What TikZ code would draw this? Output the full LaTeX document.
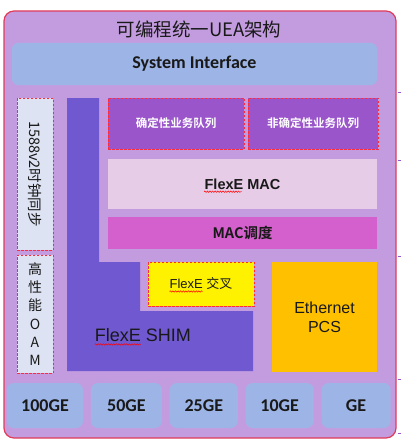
\documentclass[tikz,border=0pt]{standalone}
\usepackage{fontspec}
\usepackage{tikz}
\usetikzlibrary{positioning, decorations.pathmorphing}
\setmainfont{Liberation Sans}
\newfontfamily\cjk{Noto Sans CJK SC}[BoldFont={Noto Sans CJK SC Bold}]
\newfontfamily\calib{Carlito}

\definecolor{ueabg}{HTML}{C39CDF}
\definecolor{ueaedge}{HTML}{E03C5A}
\definecolor{ifblue}{HTML}{9DB5E6}
\definecolor{syncfill}{HTML}{DEE3F4}
\definecolor{shimfill}{HTML}{7058D0}
\definecolor{queuefill}{HTML}{9A55CB}
\definecolor{macfill}{HTML}{E6CCE6}
\definecolor{schedfill}{HTML}{D360CC}
\definecolor{pcsfill}{HTML}{FFC000}
\definecolor{dashred}{HTML}{FF2A3C}

\tikzset{
  frame/.style={draw=ueaedge, line width=1.2pt, fill=ueabg, rounded corners=10pt, inner sep=0},
  block/.style={rectangle, inner sep=0, text=black!90},
  dashbox/.style={block, draw=dashred, line width=1pt, dash pattern=on 2.5pt off 1.5pt},
  queue/.style={dashbox, fill=queuefill, text=white, font=\cjk\bfseries\fontsize{11.5}{13}\selectfont, minimum height=51},
  port/.style={block, fill=ifblue, rounded corners=7pt, font=\calib\bfseries\fontsize{18}{20}\selectfont, minimum height=45},
  spellwave/.style={draw=red, line width=0.5pt, decorate, decoration={snake, amplitude=0.7pt, segment length=2.6pt}},
  tickmark/.style={draw=queuefill, line width=0.8pt}
}

\begin{document}
\begin{tikzpicture}[x=1pt, y=-1pt]
\useasboundingbox (0,0) rectangle (401,444);

% Frame and title
\node[frame, minimum width=392, minimum height=427] (uea) at (200,224.5) {};
\node[block] (title) at (199,29) {\cjk\fontsize{18.5}{21}\selectfont 可编程统一UEA架构};
\foreach \ty in {92,160,256,379,433}
  \draw[tickmark] (397.5,\ty) -- (400.5,\ty);

% System interface
\node[block, fill=ifblue, rounded corners=6pt, minimum width=365, minimum height=42,
      font=\calib\bfseries\fontsize{18}{20}\selectfont] (sysif) at (194.5,64) {System Interface};

% Clock sync and OAM
\node[dashbox, fill=syncfill, rotate=-90, minimum width=152, minimum height=36,
      font=\cjk\fontsize{14.5}{16}\selectfont] (sync) at (35,174) {1588v2时钟同步};
\node[dashbox, fill=syncfill, minimum width=36, minimum height=118, align=center,
      font=\cjk\fontsize{14}{18.3}\selectfont] (oam) at (35,314) {高\\性\\能\\O\\A\\M};

% FlexE SHIM
\fill[shimfill] (67,98) -- (99,98) -- (99,262) -- (140,262) -- (140,311)
  -- (253,311) -- (253,371) -- (67,371) -- cycle;
\node[block, font=\fontsize{18}{20}\selectfont] (shimlbl) at (143,335) {FlexE SHIM};
\draw[spellwave] ([yshift=-3pt]shimlbl.base west) -- ++(46,0);

% Queues
\node[queue, minimum width=136] (detq) at (176,123.5) {确定性业务队列};
\node[queue, minimum width=130, right=3pt of detq] (ndetq) {非确定性业务队列};

% MAC
\node[block, fill=macfill, minimum width=269, minimum height=50,
      font=\bfseries\fontsize{14.5}{16}\selectfont] (mac) at (242.5,184) {FlexE MAC};
\draw[spellwave] ([xshift=-38.5pt, yshift=-2.5pt]mac.base) -- ([xshift=-1pt, yshift=-2.5pt]mac.base);
\node[block, fill=schedfill, minimum width=269, minimum height=32,
      font=\cjk\bfseries\fontsize{14.5}{16}\selectfont, below=8pt of mac] (sched) {MAC调度};

% Cross and PCS
\node[dashbox, fill=yellow, minimum width=106, minimum height=44,
      font=\fontsize{13}{15}\selectfont] (cross) at (201,284) {FlexE {\cjk 交叉}};
\draw[spellwave] ([xshift=-31.5pt, yshift=-2.5pt]cross.base) -- ([xshift=1.5pt, yshift=-2.5pt]cross.base);
\node[block, fill=pcsfill, minimum width=105, minimum height=110, align=center,
      font=\fontsize{16}{19}\selectfont] (pcs) at (324.5,317) {Ethernet\\PCS};

% Ports
\node[port, minimum width=76] (p100) at (45,405.5) {100GE};
\node[port, minimum width=71, right=7.5pt of p100] (p50) {50GE};
\node[port, minimum width=68, right=7.5pt of p50] (p25) {25GE};
\node[port, minimum width=68, right=7.5pt of p25] (p10) {10GE};
\node[port, minimum width=69, right=7.5pt of p10] (p1) {GE};
\end{tikzpicture}
\end{document}
